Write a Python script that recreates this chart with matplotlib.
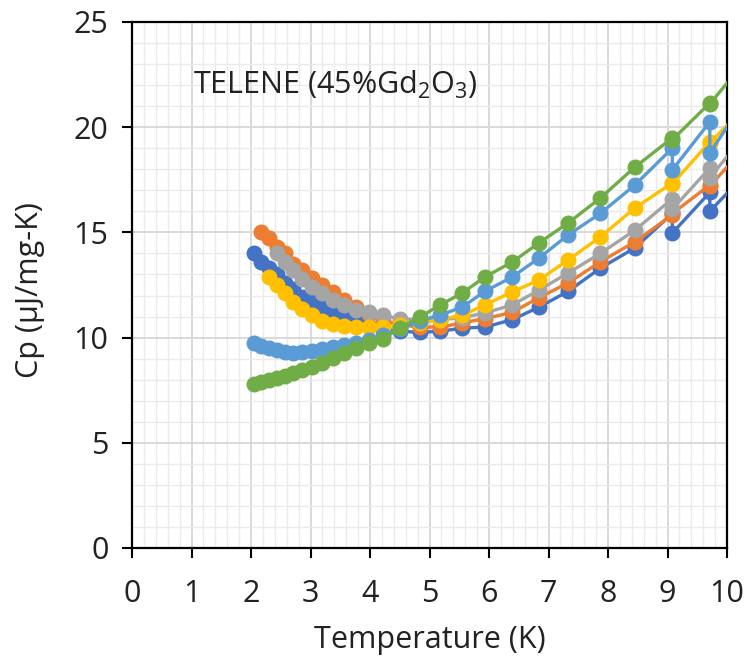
import numpy as np
import matplotlib
matplotlib.use("Agg")
import matplotlib.pyplot as plt
from matplotlib.ticker import MultipleLocator

plt.rcParams['font.family'] = ['Open Sans', 'DejaVu Sans']
plt.rcParams['mathtext.fontset'] = 'dejavusans'

nan = np.nan
# Temperature grid (K); duplicates are repeated measurements, last point lies beyond the axis
temperature = [2.05, 2.17, 2.30, 2.43, 2.57, 2.71, 2.86, 3.02, 3.19, 3.37, 3.56, 3.76, 3.98,
               4.22, 4.50, 4.84, 5.18, 5.55, 5.93, 6.39, 6.84, 7.33, 7.87, 8.45,
               9.08, 9.08, 9.71, 9.71, 10.35]

cp_darkblue = [14.0, 13.6, 13.3, 13.0, 12.6, 12.3, 11.95, 11.7, 11.45, 11.2, 11.0, 10.75, 10.55,
               10.4, 10.3, 10.25, 10.3, 10.45, 10.5, 10.85, 11.45, 12.2, 13.3, 14.26,
               15.9, 14.97, 16.9, 16.0, 17.9]
cp_orange = [nan, 15.0, 14.75, 14.3, 14.0, 13.5, 13.2, 12.85, 12.5, 12.15, 11.8, 11.45, 11.1,
             10.8, 10.6, 10.5, 10.5, 10.7, 10.9, 11.2, 11.9, 12.6, 13.6, 14.55,
             15.83, 15.9, 17.25, 17.2, 19.2]
cp_gray = [nan, nan, nan, 14.0, 13.6, 13.2, 12.8, 12.4, 12.1, 11.8, 11.55, 11.3, 11.2,
           11.05, 10.9, 10.85, 10.85, 10.95, 11.17, 11.55, 12.26, 13.07, 14.0, 15.1,
           16.6, 16.1, 18.06, 17.6, 19.8]
cp_yellow = [nan, nan, 12.9, 12.5, 12.1, 11.7, 11.35, 11.05, 10.8, 10.65, 10.55, 10.5, 10.5,
             10.5, 10.6, 10.7, 10.85, 11.07, 11.55, 12.17, 12.74, 13.69, 14.78, 16.16,
             17.35, 17.3, 19.3, 19.25, 21.1]
cp_lightblue = [9.75, 9.6, 9.5, 9.4, 9.32, 9.27, 9.3, 9.35, 9.45, 9.55, 9.65, 9.75, 9.9,
                10.1, 10.4, 10.8, 11.07, 11.45, 12.2, 12.88, 13.78, 14.88, 15.9, 17.25,
                19.0, 17.97, 20.25, 18.77, 21.5]
cp_green = [7.8, 7.88, 7.98, 8.08, 8.18, 8.3, 8.45, 8.6, 8.8, 9.03, 9.27, 9.5, 9.74,
            9.95, 10.46, 10.98, 11.55, 12.12, 12.88, 13.59, 14.5, 15.45, 16.63, 18.1,
            19.49, 19.4, 21.15, 21.1, 23.3]

series = [
    (cp_darkblue, '#4472C4'),
    (cp_orange, '#ED7D31'),
    (cp_gray, '#A5A5A5'),
    (cp_yellow, '#FFC000'),
    (cp_lightblue, '#5B9BD5'),
    (cp_green, '#70AD47'),
]

fig = plt.figure(figsize=(7.48, 6.64), dpi=100)
ax = fig.add_axes([0.1765, 0.1747, 0.972 - 0.1765, 0.9669 - 0.1747])

T = np.array(temperature)
for vals, col in series:
    v = np.array(vals, dtype=float)
    m = ~np.isnan(v)
    ax.plot(T[m], v[m], color=col, lw=2.4, marker='o', ms=10.5, mec=col, mfc=col, zorder=3)

ax.set_xlim(0, 10)
ax.set_ylim(0, 25)
ax.xaxis.set_major_locator(MultipleLocator(1))
ax.xaxis.set_minor_locator(MultipleLocator(0.2))
ax.yaxis.set_major_locator(MultipleLocator(5))
ax.yaxis.set_minor_locator(MultipleLocator(1))
ax.grid(which='major', color='#D9D9D9', lw=1.4, zorder=0)
ax.grid(which='minor', color='#EBEBEB', lw=1.0, zorder=0)
ax.set_axisbelow(True)

for s in ax.spines.values():
    s.set_linewidth(1.6)
    s.set_color('black')

ax.tick_params(which='major', direction='out', length=7, width=1.5, labelsize=22,
               colors='black', labelcolor='#222222')
ax.tick_params(which='minor', length=0)
ax.tick_params(axis='x', pad=15)
ax.tick_params(axis='y', pad=10)

ax.set_xlabel('Temperature (K)', fontsize=22, color='#222222', va='center')
ax.set_ylabel('Cp (µJ/mg-K)', fontsize=22, color='#222222', va='center')
ax.xaxis.set_label_coords(0.5, -0.175)
ax.yaxis.set_label_coords(-0.172, 0.49)

ax.text(1.03, 22.0, r'TELENE (45%Gd$_{\mathregular{2}}$O$_{\mathregular{3}}$)', fontsize=22,
        va='center', ha='left', zorder=5, color='#222222')

fig.savefig('out.png', dpi=100)
